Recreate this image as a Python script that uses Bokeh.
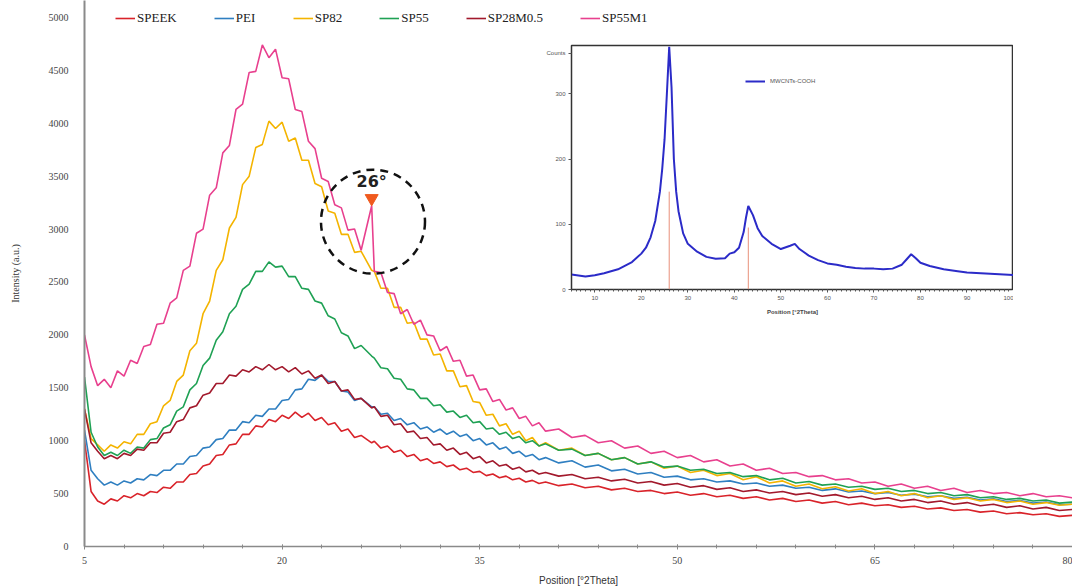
from bokeh.plotting import figure
from bokeh.models import Legend, LegendItem, FixedTicker, Range1d
from bokeh.layouts import column
from bokeh.core.properties import value
from bokeh.embed import file_html
from bokeh.resources import INLINE

# ---------------- data ----------------
TWO_THETA = [
    5.0, 5.5, 6.0, 6.5, 7.0, 7.5, 8.0, 8.5, 9.0, 9.5,
    10.0, 10.5, 11.0, 11.5, 12.0, 12.5, 13.0, 13.5, 14.0, 14.5,
    15.0, 15.5, 16.0, 16.5, 17.0, 17.5, 18.0, 18.5, 19.0, 19.5,
    20.0, 20.5, 21.0, 21.5, 22.0, 22.5, 23.0, 23.5, 24.0, 24.5,
    25.0, 25.5, 26.0, 26.8, 27.0, 27.5, 28.0, 28.5, 29.0, 29.5,
    30.0, 30.5, 31.0, 31.5, 32.0, 32.5, 33.0, 33.5, 34.0, 34.5,
    35.0, 35.5, 36.0, 36.5, 37.0, 37.5, 38.0, 38.5, 39.0, 39.5,
    40.0, 41, 42, 43, 44, 45, 46, 47, 48, 49, 50,
    51, 52, 53, 54, 55, 56, 57, 58, 59, 60,
    61, 62, 63, 64, 65, 66, 67, 68, 69, 70,
    71, 72, 73, 74, 75, 76, 77, 78, 79, 80,
]

SPEEK = [
    1000, 520, 430, 400, 450, 430, 480, 460, 500, 480,
    520, 510, 560, 550, 610, 610, 680, 690, 760, 780,
    860, 870, 960, 970, 1060, 1060, 1140, 1130, 1200, 1180,
    1240, 1210, 1270, 1220, 1260, 1190, 1220, 1150, 1170, 1090,
    1110, 1030, 1050, 980, 995, 930, 950, 890, 910, 850,
    870, 810, 830, 785, 800, 755, 770, 725, 740, 700,
    710, 670, 685, 650, 665, 630, 645, 610, 625, 595,
    610, 575, 590, 555, 570, 535, 550, 520, 530, 500, 515,
    485, 500, 470, 485, 455, 470, 440, 455, 425, 440,
    410, 425, 395, 410, 385, 395, 370, 380, 355, 365,
    340, 350, 325, 335, 310, 320, 300, 310, 285, 295,
]

PEI = [
    1100, 720, 640, 580, 610, 580, 620, 600, 640, 630,
    680, 670, 720, 720, 780, 780, 850, 860, 930, 940,
    1010, 1020, 1100, 1100, 1180, 1170, 1240, 1230, 1300, 1300,
    1380, 1390, 1480, 1490, 1580, 1570, 1620, 1560, 1560, 1470,
    1460, 1380, 1400, 1320, 1320, 1250, 1260, 1190, 1210, 1150,
    1170, 1110, 1130, 1080, 1110, 1060, 1090, 1040, 1060, 1000,
    1020, 960, 980, 920, 940, 880, 900, 850, 870, 820,
    840, 790, 810, 750, 770, 715, 730, 685, 700, 655, 665,
    630, 640, 610, 620, 590, 600, 570, 580, 550, 560,
    530, 545, 515, 525, 500, 510, 485, 495, 470, 480,
    455, 465, 440, 450, 425, 435, 410, 420, 395, 400,
]

SP82 = [
    1300, 1020, 960, 900, 960, 930, 990, 970, 1060, 1060,
    1160, 1180, 1330, 1380, 1560, 1620, 1850, 1920, 2200, 2320,
    2610, 2710, 3010, 3110, 3420, 3500, 3770, 3800, 4020, 3950,
    4010, 3830, 3860, 3650, 3650, 3430, 3400, 3170, 3150, 2950,
    2950, 2780, 2790, 2610, 2600, 2440, 2440, 2260, 2260, 2110,
    2120, 1960, 1960, 1810, 1820, 1660, 1660, 1510, 1520, 1370,
    1360, 1240, 1250, 1140, 1160, 1060, 1090, 1000, 1030, 950,
    980, 910, 930, 860, 880, 820, 840, 780, 800, 740, 760,
    700, 720, 670, 690, 630, 660, 600, 620, 570, 590,
    545, 565, 525, 545, 500, 520, 480, 500, 460, 480,
    445, 460, 430, 445, 415, 430, 400, 415, 390, 400,
]

SP55 = [
    1600, 1080, 940, 860, 890, 860, 910, 880, 940, 930,
    1010, 1020, 1120, 1150, 1280, 1320, 1480, 1540, 1710, 1780,
    1950, 2030, 2200, 2270, 2430, 2480, 2600, 2600, 2690, 2640,
    2650, 2550, 2550, 2440, 2430, 2320, 2300, 2180, 2150, 2020,
    1990, 1870, 1900, 1800, 1780, 1690, 1680, 1590, 1580, 1490,
    1480, 1400, 1400, 1330, 1340, 1270, 1280, 1220, 1240, 1170,
    1180, 1110, 1120, 1060, 1080, 1020, 1040, 980, 1000, 950,
    970, 910, 920, 860, 880, 820, 840, 780, 800, 750, 760,
    720, 730, 690, 700, 660, 670, 630, 645, 600, 615,
    580, 590, 560, 570, 540, 550, 520, 530, 500, 510,
    480, 490, 460, 470, 445, 455, 430, 440, 410, 420,
]

SP28M05 = [
    1300, 980, 900, 830, 860, 830, 880, 860, 920, 910,
    980, 980, 1070, 1080, 1180, 1200, 1310, 1330, 1430, 1450,
    1540, 1540, 1620, 1610, 1670, 1650, 1700, 1670, 1720, 1670,
    1700, 1650, 1690, 1630, 1660, 1590, 1620, 1540, 1560, 1470,
    1480, 1390, 1400, 1310, 1320, 1230, 1240, 1150, 1160, 1080,
    1090, 1020, 1030, 960, 970, 910, 930, 870, 890, 830,
    850, 790, 810, 760, 775, 730, 750, 705, 720, 685,
    700, 665, 680, 640, 655, 620, 635, 600, 615, 580, 595,
    560, 575, 540, 555, 520, 535, 505, 520, 490, 505,
    475, 490, 460, 475, 445, 460, 430, 445, 415, 430,
    400, 415, 385, 400, 370, 385, 355, 370, 340, 350,
]

SP55M1 = [
    2000, 1700, 1520, 1580, 1500, 1660, 1610, 1760, 1730, 1890,
    1910, 2100, 2110, 2300, 2350, 2610, 2650, 2960, 3000, 3320,
    3390, 3720, 3790, 4130, 4180, 4480, 4490, 4740, 4620, 4700,
    4430, 4420, 4130, 4110, 3830, 3760, 3480, 3450, 3230, 3200,
    2990, 3000, 2800, 3220, 2600, 2590, 2400, 2390, 2200, 2240,
    2100, 2140, 2000, 1990, 1850, 1890, 1750, 1760, 1610, 1620,
    1480, 1490, 1370, 1390, 1290, 1310, 1210, 1230, 1140, 1170,
    1090, 1110, 1030, 1050, 980, 1000, 930, 950, 880, 900, 840,
    860, 800, 820, 760, 780, 720, 740, 690, 700, 660,
    670, 630, 640, 600, 610, 570, 590, 550, 570, 530,
    550, 510, 530, 500, 510, 480, 500, 470, 480, 460,
]

SERIES_NAMES = ["SPEEK", "PEI", "SP82", "SP55", "SP28M0.5", "SP55M1"]
SERIES_VALUES = [SPEEK, PEI, SP82, SP55, SP28M05, SP55M1]
SERIES_COLORS = ["#d9232a", "#2f7fc1", "#f4b400", "#1fa154", "#a2192c", "#e8408e"]

X_TICKS = [5, 20, 35, 50, 65, 80]
Y_TICKS = [0, 500, 1000, 1500, 2000, 2500, 3000, 3500, 4000, 4500, 5000]

PEAK_LABEL = "26°"
PEAK_X = 26.8
PEAK_MARK_Y = 3290
PEAK_TEXT_Y = 3450
CIRCLE_X = 26.9
CIRCLE_Y = 3070

# inset: MWCNTs-COOH pattern
INSET_X = [5, 8, 10, 12, 15, 18, 20, 21, 22, 23, 24, 24.5, 25, 25.5, 26, 26.5,
           27, 27.5, 28, 29, 30, 32, 34, 36, 38, 39, 40, 41, 42, 42.5, 43, 44,
           45, 46, 48, 50, 52, 53, 54, 56, 58, 60, 62, 64, 66, 68, 70, 72, 74,
           76, 77, 78, 79, 80, 82, 85, 88, 90, 95, 100]
INSET_Y = [23, 20, 22, 25, 31, 42, 55, 64, 80, 105, 150, 185, 230, 300, 372, 310,
           200, 150, 120, 86, 70, 58, 50, 47, 48, 55, 57, 64, 88, 110, 128, 114,
           94, 82, 70, 62, 67, 70, 62, 52, 45, 40, 38, 35, 33, 32, 32, 31, 32,
           38, 46, 54, 48, 41, 36, 31, 28, 26, 24, 22]
INSET_STICK_X = [26, 43]
INSET_STICK_H = [150, 95]
INSET_X_TICKS = [10, 20, 30, 40, 50, 60, 70, 80, 90, 100]
INSET_Y_TICKS = [0, 100, 200, 300, 362]
INSET_NAME = "MWCNTs-COOH"

# ---------------- main figure ----------------
p = figure(width=1072, height=588, x_range=Range1d(5, 80), y_range=Range1d(0, 5160),
           output_backend="svg", toolbar_location=None,
           min_border_left=84, min_border_right=0, min_border_top=0, min_border_bottom=40)
p.outline_line_color = None
p.grid.visible = False
p.background_fill_color = "white"

items = []
for name, vals, col in zip(SERIES_NAMES, SERIES_VALUES, SERIES_COLORS):
    r = p.line(TWO_THETA, vals, line_color=col, line_width=1.6)
    items.append(LegendItem(label=name, renderers=[r]))

serif = "Liberation Serif"

p.xaxis.ticker = FixedTicker(ticks=X_TICKS, minor_ticks=list(range(5, 81, 3)))
p.yaxis.ticker = FixedTicker(ticks=Y_TICKS)
p.xaxis.axis_label = "Position [°2Theta]"
p.yaxis.axis_label = "Intensity (a.u.)"
for ax in (p.xaxis[0], p.yaxis[0]):
    ax.axis_line_color = "#8a8a8a"
    ax.major_label_text_font = serif
    ax.major_label_text_font_size = "10px"
    ax.major_label_text_color = "#444444"
    ax.axis_label_text_font_style = "normal"
    ax.axis_label_text_color = "#333333"
p.yaxis.axis_line_width = 2
p.yaxis.major_tick_line_color = None
p.yaxis.minor_tick_line_color = None
p.yaxis.major_label_standoff = 10
p.yaxis.axis_label_text_font = serif
p.yaxis.axis_label_text_font_size = "10px"
p.yaxis.axis_label_standoff = 25
p.xaxis.axis_line_width = 1.5
p.xaxis.major_tick_line_color = "#8a8a8a"
p.xaxis.minor_tick_line_color = "#8a8a8a"
p.xaxis.major_tick_in = 2
p.xaxis.major_tick_out = 3
p.xaxis.minor_tick_in = 2
p.xaxis.minor_tick_out = 2
p.xaxis.major_label_standoff = 7
p.xaxis.axis_label_text_font = "Liberation Sans"
p.xaxis.axis_label_text_font_size = "10px"
p.xaxis.axis_label_standoff = 8

legend = Legend(items=items, orientation="horizontal", location=(31, 520),
                label_text_font=serif, label_text_font_size="13px",
                label_text_color="#222222", glyph_width=20, glyph_height=14,
                label_height=14, label_standoff=2, spacing=37, padding=0, margin=0,
                border_line_color=None, background_fill_alpha=0)
p.add_layout(legend)

# annotation of the 26° peak
p.scatter([CIRCLE_X], [CIRCLE_Y], marker="circle", size=104, fill_alpha=0,
          line_color="#111111", line_width=2.5, line_dash="8 6")
p.scatter([PEAK_X], [PEAK_MARK_Y], marker="inverted_triangle", size=13,
          fill_color="#f05a1e", line_color="#f05a1e")
p.text([PEAK_X], [PEAK_TEXT_Y], text=[PEAK_LABEL], text_font=value("DejaVu Sans"),
       text_font_style="bold", text_font_size="16px", text_align="center",
       text_baseline="middle", text_color="#222222")

# ---------------- inset ----------------
ins = figure(width=526, height=285, x_range=Range1d(5, 100), y_range=Range1d(0, 374),
             output_backend="svg", toolbar_location=None,
             min_border_left=84, min_border_right=0, min_border_top=5, min_border_bottom=36,
             styles={"position": "absolute", "left": "487px", "top": "40px"})
ins.grid.visible = False
ins.outline_line_color = "#333333"
ins.outline_line_width = 1.5
ins.segment(x0=INSET_STICK_X, y0=[0, 0], x1=INSET_STICK_X, y1=INSET_STICK_H,
            line_color="#e8907a", line_width=1)
ri = ins.line(INSET_X, INSET_Y, line_color="#2b2bc8", line_width=2)
ins.xaxis.ticker = FixedTicker(ticks=INSET_X_TICKS, minor_ticks=list(range(5, 101)))
ins.yaxis.ticker = FixedTicker(ticks=INSET_Y_TICKS)
ins.yaxis.major_label_overrides = {362: "Counts"}
ins.xaxis.axis_label = "Position [°2Theta]"
for ax in (ins.xaxis[0], ins.yaxis[0]):
    ax.axis_line_color = "#333333"
    ax.major_label_text_font = "Liberation Sans"
    ax.major_label_text_font_size = "6px"
    ax.major_label_text_color = "#555555"
    ax.major_tick_line_color = "#555555"
    ax.major_tick_in = 0
    ax.major_tick_out = 3
    ax.minor_tick_line_color = "#555555"
    ax.minor_tick_in = 0
    ax.minor_tick_out = 2
    ax.major_label_standoff = 3
ins.yaxis.minor_tick_line_color = None
ins.xaxis.axis_label_text_font = "Liberation Sans"
ins.xaxis.axis_label_text_font_size = "6px"
ins.xaxis.axis_label_text_font_style = "bold"
ins.xaxis.axis_label_standoff = 6
ins_legend = Legend(items=[LegendItem(label=INSET_NAME, renderers=[ri])],
                    location=(174, 204), label_text_font="Liberation Sans",
                    label_text_font_size="6px", label_text_color="#555555",
                    glyph_width=20, glyph_height=8, label_height=8, padding=0, margin=0,
                    border_line_color=None, background_fill_alpha=0)
ins.add_layout(ins_legend)

layout = column(p, ins, styles={"position": "relative"})
open("out.html", "w").write(file_html(layout, INLINE))
